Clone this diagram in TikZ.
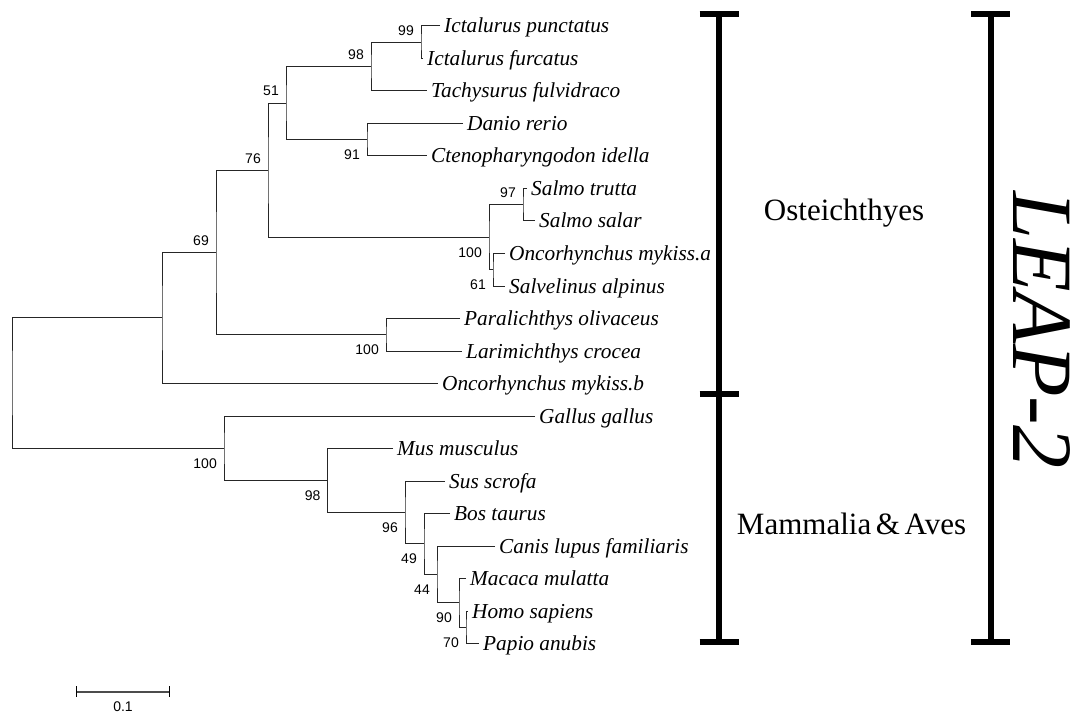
\documentclass[tikz,border=0pt]{standalone}
\usepackage{fontspec}
\setmainfont{Liberation Serif}
\newfontfamily\arialfont{Liberation Sans}
\tikzset{branch/.style={line width=1pt,black!85},
         taxon/.style={anchor=base west,inner sep=0pt,xshift=4pt,yshift=-7pt,
                       font=\fontsize{21.3}{24}\selectfont\itshape},
         boot/.style={anchor=east,inner sep=0pt,xshift=-7pt,
                      font=\arialfont\fontsize{14}{16}\selectfont},
         bup/.style={boot,yshift=12pt},
         bdown/.style={boot,yshift=-15pt},
         bar/.style={line width=6pt},
         group/.style={anchor=base,inner sep=0pt,font=\fontsize{31}{34}\selectfont}}

\begin{document}
\begin{tikzpicture}[x=1pt,y=-1pt]
\useasboundingbox (0,0) rectangle (1079,714);

% tips
\foreach \i/\x/\name in {1/440/Ictalurus punctatus, 2/423/Ictalurus furcatus,
    3/427/Tachysurus fulvidraco, 4/463/Danio rerio,
    5/427/Ctenopharyngodon idella, 6/527/Salmo trutta, 7/535/Salmo salar,
    8/505/Oncorhynchus mykiss.a, 9/505/Salvelinus alpinus,
    10/460/Paralichthys olivaceus, 11/462/Larimichthys crocea,
    12/438/Oncorhynchus mykiss.b, 13/535/Gallus gallus, 14/393/Mus musculus,
    15/445/Sus scrofa, 16/450/Bos taurus, 17/495/Canis lupus familiaris,
    18/466/Macaca mulatta, 19/468/Homo sapiens, 20/479/Papio anubis}{
  \coordinate (t\i) at (\x,{26+32.5*(\i-1)});
  \node[taxon] (s\i) at (t\i) {\name};
}

% inner nodes
\coordinate (n99) at (421,42.25);
\coordinate (n98) at (371,66.62);
\coordinate (n91) at (367,139.75);
\coordinate (n51) at (286,103.19);
\coordinate (n97) at (523,204.75);
\coordinate (n61) at (493,269.75);
\coordinate (nsal) at (489,237.25);
\coordinate (n76) at (268,170.22);
\coordinate (npar) at (386,334.75);
\coordinate (n69) at (216,252.48);
\coordinate (nfish) at (162,317.99);
\coordinate (n70) at (466,627.25);
\coordinate (n90) at (459,602.88);
\coordinate (n44) at (437,574.44);
\coordinate (n49) at (424,543.97);
\coordinate (n96) at (405,512.48);
\coordinate (n98b) at (327.6,480.49);
\coordinate (n100) at (224,448.25);
\coordinate (root) at (12,383.12);

\draw[branch] (t1) -| (n99) |- (t2);
\draw[branch] (n99) -| (n98) |- (t3);
\draw[branch] (t4) -| (n91) |- (t5);
\draw[branch] (n98) -| (n51) |- (n91);
\draw[branch] (t6) -| (n97) |- (t7);
\draw[branch] (t8) -| (n61) |- (t9);
\draw[branch] (n97) -| (nsal) |- (n61);
\draw[branch] (n51) -| (n76) |- (nsal);
\draw[branch] (t10) -| (npar) |- (t11);
\draw[branch] (n76) -| (n69) |- (npar);
\draw[branch] (n69) -| (nfish) |- (t12);
\draw[branch] (t19) -| (n70) |- (t20);
\draw[branch] (t18) -| (n90) |- (n70);
\draw[branch] (t17) -| (n44) |- (n90);
\draw[branch] (t16) -| (n49) |- (n44);
\draw[branch] (t15) -| (n96) |- (n49);
\draw[branch] (t14) -| (n98b) |- (n96);
\draw[branch] (t13) -| (n100) |- (n98b);
\draw[branch] (nfish) -| (root) |- (n100);

% bootstrap values
\node[bup] (b99) at (n99) {99};
\node[bup] (b98) at (n98) {98};
\node[bup] (b51) at (n51) {51};
\node[bdown] (b91) at (n91) {91};
\node[bup] (b76) at (n76) {76};
\node[bup] (b69) at (n69) {69};
\node[bup] (b97) at (n97) {97};
\node[bdown] (b100a) at (nsal) {100};
\node[bdown] (b61) at (n61) {61};
\node[bdown] (b100b) at (npar) {100};
\node[bdown] (b100c) at (n100) {100};
\node[bdown] (b98b) at (n98b) {98};
\node[bdown] (b96) at (n96) {96};
\node[bdown] (b49) at (n49) {49};
\node[bdown] (b44) at (n44) {44};
\node[bdown] (b90) at (n90) {90};
\node[bdown] (b70) at (n70) {70};

% scale bar
\coordinate (sbl) at (76.5,691.7);
\coordinate (sbr) at (169.3,691.7);
\draw[line width=1.8pt,black!70] (sbl) -- (sbr);
\draw[line width=1.4pt] (sbl) ++(0,-5.3) -- ++(0,10.6);
\draw[line width=1.4pt] (sbr) ++(0,-5.3) -- ++(0,10.6);
\node[inner sep=0pt,font=\arialfont\fontsize{14}{16}\selectfont] (sblab) at (123,707) {0.1};

% brackets
\coordinate (oa) at (719,14);
\coordinate (ob) at (719,393.8);
\coordinate (oc) at (719,641.7);
\coordinate (la) at (990.7,14);
\coordinate (lb) at (990.7,641.7);
\draw[bar] (oa) -- (oc);
\draw[bar] (oa) ++(-19.5,0) -- ++(39,0);
\draw[bar] (ob) ++(-19.5,0) -- ++(39,0);
\draw[bar] (oc) ++(-19.5,0) -- ++(39,0);
\draw[bar] (la) -- (lb);
\draw[bar] (la) ++(-19.5,0) -- ++(39,0);
\draw[bar] (lb) ++(-19.5,0) -- ++(39,0);

\node[group] (ost) at (844,221) {Osteichthyes};
\node[group] (mam) at (851.5,534) {Mammalia\hspace{0.15em}\&\hspace{0.15em}Aves};
\node[rotate=-90,inner sep=0pt,font=\fontsize{86}{88}\selectfont\itshape] (leap) at (1042,330) {LEAP-2};
\end{tikzpicture}
\end{document}
